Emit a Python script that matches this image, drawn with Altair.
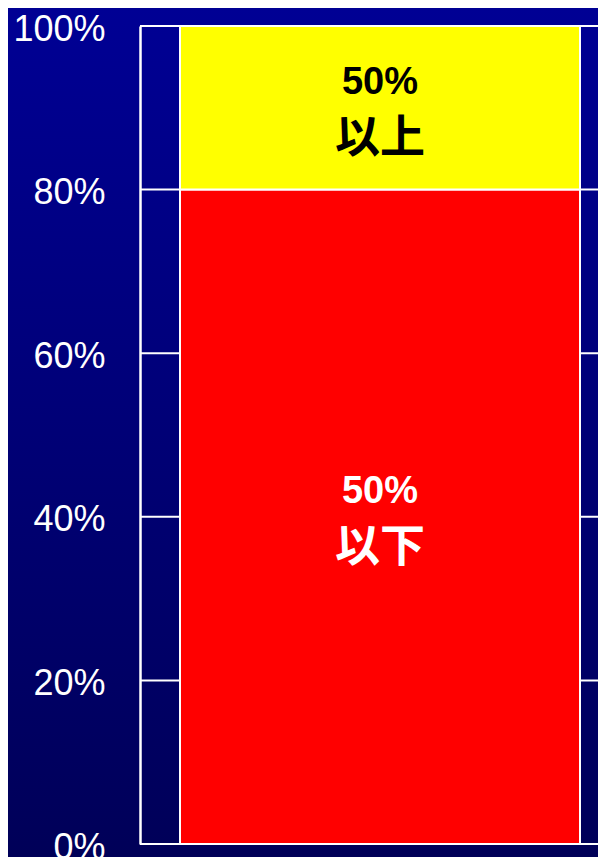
import altair as alt
import pandas as pd

# ---- data ----
segments = ["50%以下", "50%以上"]
shares = [0.8, 0.2]
line1 = ["50%", "50%"]
line2 = ["以下", "以上"]
seg_colors = ["#FF0000", "#FFFF00"]
text_colors = ["#FFFFFF", "#000000"]
tick_values = [0, 0.2, 0.4, 0.6, 0.8, 1.0]

W, H = 458, 818
PAD = {"left": 132, "top": 18, "right": 0, "bottom": 13}

lo, hi, acc = [], [], 0.0
for v in shares:
    lo.append(acc)
    acc += v
    hi.append(acc)

df = pd.DataFrame({
    "cat": ["all"] * len(segments),
    "seg": segments,
    "lo": lo,
    "hi": hi,
    "mid": [(a + b) / 2 for a, b in zip(lo, hi)],
    "l1": line1,
    "l2": line2,
    "tc": text_colors,
})
ticks_df = pd.DataFrame({"t": tick_values})

FONT = "Liberation Sans"

yscale = alt.Scale(domain=[0, 1], nice=False)
# bar spans plot x 40..440
xscale = alt.Scale(paddingInner=0, paddingOuter=(W / 400 - 1) / 2, align=40 / (W - 400))
yaxis = alt.Axis(values=tick_values, format=".0%", ticks=False, grid=False,
                 domainColor="white", domainWidth=2.5, labelColor="white",
                 labelFont=FONT, labelFontSize=36, labelPadding=35,
                 labelFlush=False, labelOffset=3, zindex=1, title=None)

bg = alt.Chart(pd.DataFrame({"d": [0]})).mark_rect(
    fill=alt.Gradient(gradient="linear",
                      stops=[alt.GradientStop(color="#000094", offset=0),
                             alt.GradientStop(color="#000058", offset=1)],
                      x1=0, x2=0, y1=0, y2=1)
).encode(x=alt.value(-PAD["left"]), x2=alt.value(W + PAD["right"]),
         y=alt.value(-PAD["top"]), y2=alt.value(H + PAD["bottom"]))

grid = alt.Chart(ticks_df).mark_rule(color="white", strokeWidth=2).encode(
    y=alt.Y("t:Q", scale=yscale, axis=yaxis, title=None),
    x=alt.value(0), x2=alt.value(W))

bars = alt.Chart(df).mark_bar(stroke="white", strokeWidth=2).encode(
    x=alt.X("cat:N", scale=xscale, axis=None),
    y=alt.Y("lo:Q", scale=yscale, axis=yaxis, title=None),
    y2="hi:Q",
    color=alt.Color("seg:N", scale=alt.Scale(domain=segments, range=seg_colors), legend=None),
)

t1 = alt.Chart(df).mark_text(font=FONT, fontWeight="bold", fontSize=38,
                             dy=-25, baseline="middle", align="center").encode(
    x=alt.X("cat:N", scale=xscale, axis=None),
    y=alt.Y("mid:Q", scale=yscale, axis=yaxis, title=None),
    text="l1:N",
    color=alt.Color("tc:N", scale=None),
)
t2 = alt.Chart(df).mark_text(font="Noto Sans CJK JP", fontWeight="bold", fontSize=45,
                             dy=31, baseline="middle", align="center").encode(
    x=alt.X("cat:N", scale=xscale, axis=None),
    y=alt.Y("mid:Q", scale=yscale, axis=yaxis, title=None),
    text="l2:N",
    color=alt.Color("tc:N", scale=None),
)

chart = alt.layer(bg, grid, bars, t1, t2).properties(
    width=W, height=H, padding=PAD,
    autosize=alt.AutoSizeParams(type="none"),
).configure_view(stroke=None)

chart.save("out.html", embed_options={"renderer": "svg", "actions": False})
